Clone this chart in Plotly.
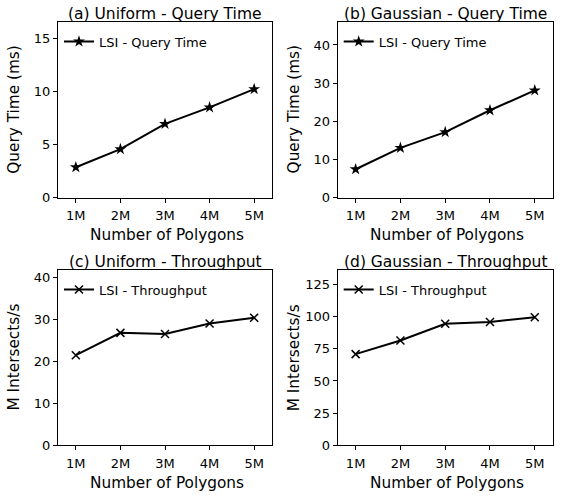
import plotly.graph_objects as go

W, H = 562, 497

categories = ["1M", "2M", "3M", "4M", "5M"]
uniform_query_time = [2.87, 4.57, 6.94, 8.49, 10.21]
gaussian_query_time = [7.47, 13.06, 17.18, 22.9, 28.1]
uniform_throughput = [21.45, 26.76, 26.5, 29.0, 30.35]
gaussian_throughput = [70.8, 81.4, 94.4, 95.7, 99.5]

titles = ["(a) Uniform - Query Time", "(b) Gaussian - Query Time",
          "(c) Uniform - Throughput", "(d) Gaussian - Throughput"]
y_titles = ["Query Time (ms)", "Query Time (ms)", "M Intersects/s", "M Intersects/s"]
x_title = "Number of Polygons"
series_names = ["LSI - Query Time", "LSI - Query Time", "LSI - Throughput", "LSI - Throughput"]

FONT = "DejaVu Sans"

# panel boxes in pixels (x0, x1, ytop, ybottom)
boxes = [(58, 272, 22, 201), (337.7, 552.7, 22, 201),
         (58, 272, 274, 452.7), (337.7, 552.7, 274, 452.7)]
yranges = [[0, 16.55], [0, 46.1], [0, 41.8], [0, 136.4]]
ydticks = [5, 10, 10, 25]
series = [uniform_query_time, gaussian_query_time, uniform_throughput, gaussian_throughput]
symbols = ["star", "star", "x-thin-open", "x-thin-open"]

fig = go.Figure()
annotations = []
for i in range(4):
    x0, x1, yt, yb = boxes[i]
    xa = "x" if i == 0 else f"x{i+1}"
    ya = "y" if i == 0 else f"y{i+1}"
    leg = "legend" if i == 0 else f"legend{i+1}"
    if symbols[i] == "star":
        marker = dict(symbol="star", size=9, color="black", line=dict(width=0))
    else:
        marker = dict(symbol="x-thin-open", size=8, color="black", line=dict(width=1.5, color="black"))
    fig.add_trace(go.Scatter(
        x=categories, y=series[i], mode="lines+markers", name=series_names[i],
        line=dict(color="black", width=2), marker=marker,
        xaxis=xa, yaxis=ya, legend=leg, showlegend=True))
    axis_common = dict(showline=True, linecolor="black", linewidth=1, mirror=True,
                       ticks="outside", ticklen=4, tickcolor="black", tickwidth=1,
                       showgrid=False, zeroline=False,
                       tickfont=dict(family=FONT, size=13, color="black"))
    xkey = "xaxis" if i == 0 else f"xaxis{i+1}"
    ykey = "yaxis" if i == 0 else f"yaxis{i+1}"
    fig.layout[xkey] = dict(domain=[x0 / W, x1 / W], anchor=ya, type="category",
                            range=[-0.4, 4.4], ticklabelstandoff=2, **axis_common)
    fig.layout[ykey] = dict(domain=[1 - yb / H, 1 - yt / H], anchor=xa,
                            range=yranges[i], dtick=ydticks[i], tick0=0, **axis_common)
    fig.layout[leg] = dict(x=(x0 + 1) / W, y=1 - (yt + 5) / H, xanchor="left", yanchor="top",
                           bgcolor="rgba(0,0,0,0)", borderwidth=0,
                           font=dict(family=FONT, size=13, color="black"),
                           itemwidth=30, tracegroupgap=0)
    cx = (x0 + x1) / 2
    annotations.append(dict(text=titles[i], x=cx / W, y=1 - (yt - 8) / H, xref="paper", yref="paper",
                            xanchor="center", yanchor="middle", showarrow=False,
                            font=dict(family=FONT, size=15.5, color="black")))
    annotations.append(dict(text=x_title, x=(cx + 2) / W, y=1 - (yb + 38) / H, xref="paper", yref="paper",
                            xanchor="center", yanchor="middle", showarrow=False,
                            font=dict(family=FONT, size=15.3, color="black")))
    annotations.append(dict(text=y_titles[i], x=(x0 - 44) / W, y=1 - ((yt + yb) / 2) / H,
                            xref="paper", yref="paper", textangle=-90,
                            xanchor="center", yanchor="middle", showarrow=False,
                            font=dict(family=FONT, size=15.3, color="black")))

fig.update_layout(width=W, height=H, margin=dict(l=0, r=0, t=0, b=0),
                  plot_bgcolor="white", paper_bgcolor="white",
                  annotations=annotations, font=dict(family=FONT, color="black"))
fig.write_html("out.html", config={"displayModeBar": False},
               post_script="document.body.style.margin='0';document.body.style.padding='0';")
